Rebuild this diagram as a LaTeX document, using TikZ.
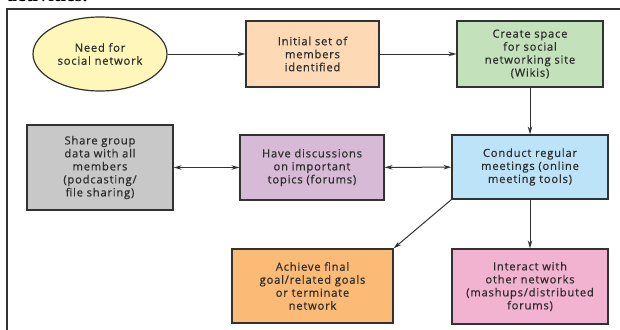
\documentclass[tikz,border=0pt]{standalone}
\usepackage{fontspec}
\setmainfont{Liberation Serif}
\newfontfamily\boxfont[LetterSpace=7,FakeBold=0.6]{Open Sans}
\usetikzlibrary{shapes.geometric,arrows.meta}

\definecolor{lineclr}{RGB}{50,50,50}
\definecolor{txtclr}{RGB}{45,45,45}
\definecolor{needclr}{RGB}{255,247,185}
\definecolor{initclr}{RGB}{253,217,181}
\definecolor{spaceclr}{RGB}{195,225,186}
\definecolor{shareclr}{RGB}{200,200,200}
\definecolor{discussclr}{RGB}{215,186,214}
\definecolor{meetclr}{RGB}{188,227,248}
\definecolor{goalclr}{RGB}{251,187,118}
\definecolor{interactclr}{RGB}{241,179,208}

\tikzset{
  stagebox/.style={draw=lineclr, line width=1.2pt, align=center, text=txtclr,
    font=\boxfont\fontsize{11.2}{13}\selectfont, inner sep=2pt},
  arr/.style={draw=lineclr, line width=1pt, -{Stealth[length=8pt,width=4.5pt]}},
  dblarr/.style={draw=lineclr, line width=1pt, {Stealth[length=8pt,width=4.5pt]}-{Stealth[length=8pt,width=4.5pt]}}
}

\begin{document}
\begin{tikzpicture}[x=1pt,y=-1pt]
\useasboundingbox (0,0) rectangle (620,329);
\draw[lineclr, line width=1.2pt] (7,335) -- (7,9) -- (626,9);
\node[anchor=base west, inner sep=0pt, font=\bfseries\fontsize{20}{20}\selectfont] (caption) at (7,2) {activities.};

\node[stagebox, ellipse, fill=needclr, minimum width=134pt, minimum height=74pt] (need) at (100,54) {Need for\\social network};
\node[stagebox, fill=initclr, minimum width=133pt, minimum height=66pt] (init) at (312.5,54) {Initial set of\\members\\identified};
\node[stagebox, fill=spaceclr, minimum width=146pt, minimum height=66pt] (space) at (530,54) {Create space\\for social\\networking site\\(Wikis)};

\node[stagebox, fill=shareclr, minimum width=146pt, minimum height=85pt] (share) at (100,167.5) {Share group\\data with all\\members\\(podcasting/\\file sharing)};
\node[stagebox, fill=discussclr, minimum width=144pt, minimum height=65pt] (discuss) at (312,167.5) {Have discussions\\on important\\topics (forums)};
\node[stagebox, fill=meetclr, minimum width=156pt, minimum height=64pt] (meet) at (530,167) {Conduct regular\\meetings (online\\meeting tools)};

\node[stagebox, fill=goalclr, minimum width=161pt, minimum height=74pt] (goal) at (312.5,286) {Achieve final\\goal/related goals\\or terminate\\network};
\node[stagebox, fill=interactclr, minimum width=156pt, minimum height=75pt] (interact) at (530,286.5) {Interact with\\other networks\\(mashups/distributed\\forums)};

\draw[arr] (need) -- (init);
\draw[arr] (init) -- (space);
\draw[arr] (space) -- (meet);
\draw[dblarr] (share) -- (discuss);
\draw[dblarr] (discuss) -- (meet);
\draw[arr] (meet.south west) -- (goal.north east);
\draw[arr] (meet) -- (interact);
\end{tikzpicture}
\end{document}
